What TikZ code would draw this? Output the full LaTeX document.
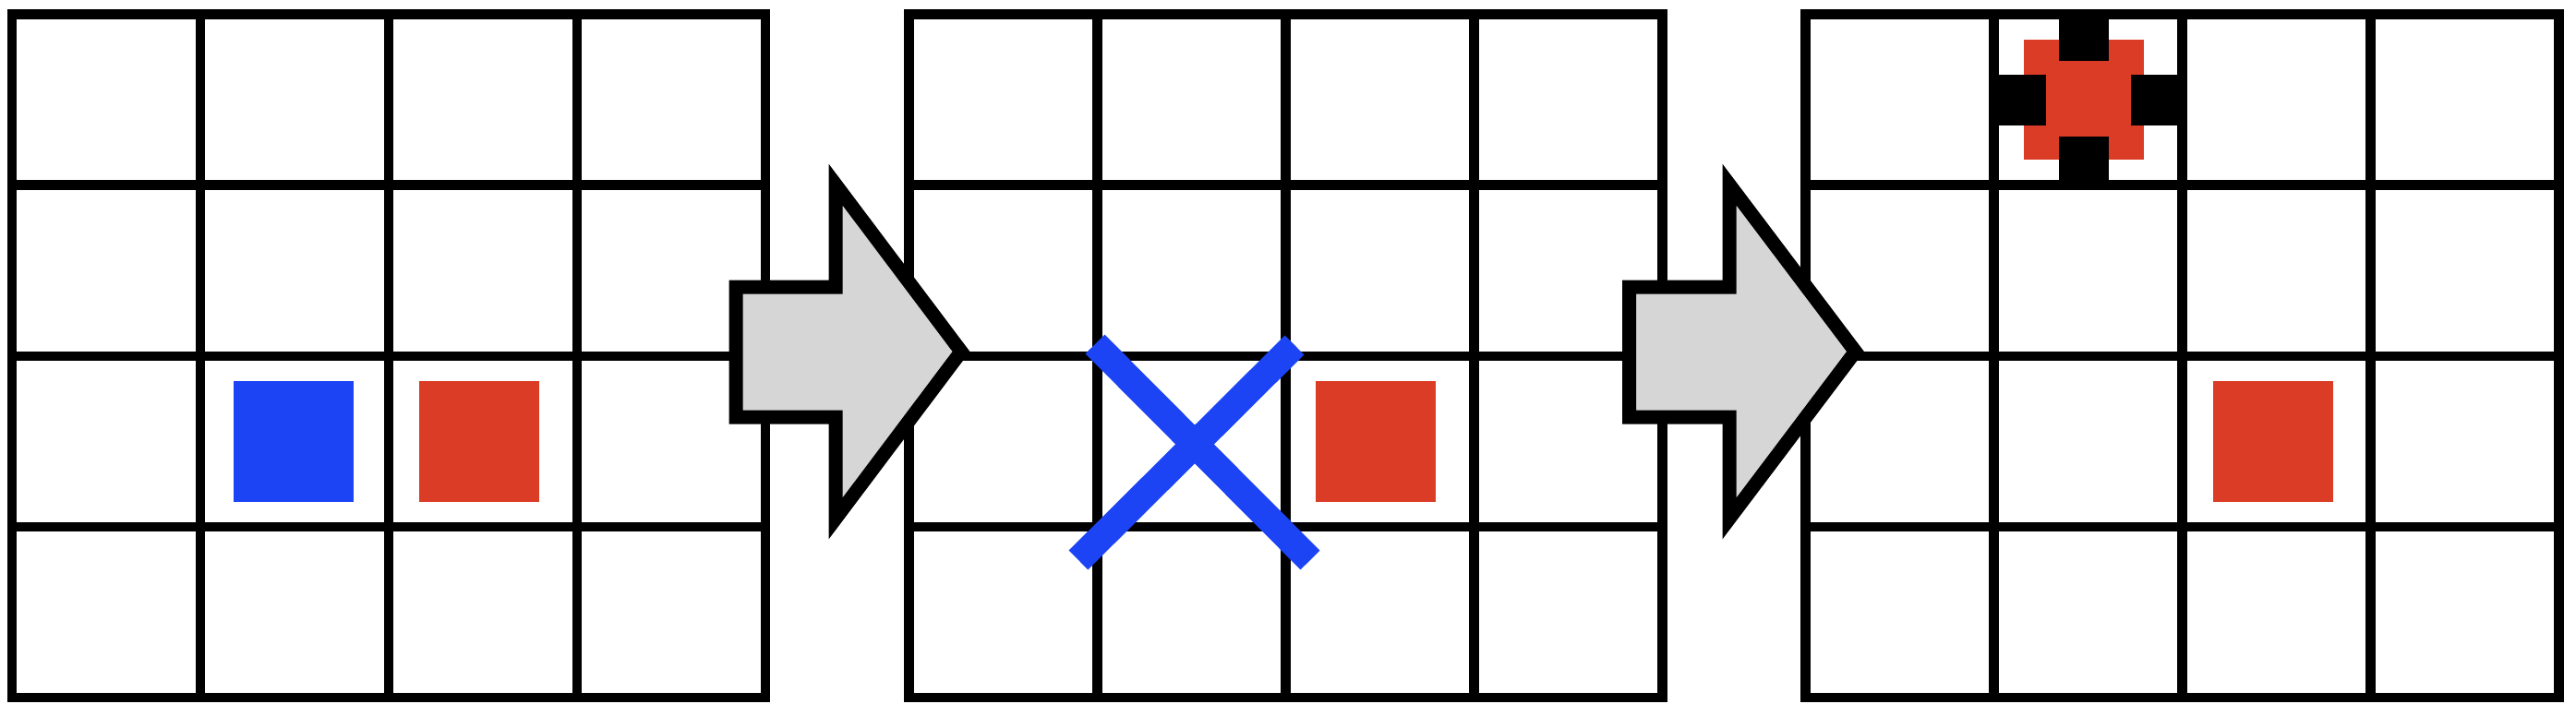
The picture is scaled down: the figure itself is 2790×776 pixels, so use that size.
\documentclass[tikz,border=0pt]{standalone}
\definecolor{cblue}{RGB}{28,68,245}
\definecolor{cred}{RGB}{219,60,38}
\definecolor{cgray}{RGB}{214,214,214}
\begin{document}
\begin{tikzpicture}[x=1pt,y=-1pt,
  gridline/.style={line width=10.5pt,black},
  token/.style={rectangle,draw=none,inner sep=0pt,minimum width=130pt,minimum height=131pt},
  bluetok/.style={token,fill=cblue},
  redtok/.style={token,fill=cred},
  wallblock/.style={fill=black},
  bigarrow/.style={draw=black,fill=cgray,line width=15pt,line join=miter},
  crossline/.style={draw=cblue,line width=29.5pt,line cap=butt}]
\useasboundingbox (0,0) rectangle (2790,776);
% grids
\foreach \gx in {13,984.5,1955.5}{
  \draw[gridline] (\gx,15.5) rectangle (\gx+816,756);
  \foreach \i in {1,2,3}{
    \draw[gridline] (\gx+\i*204,15.5) -- (\gx+\i*204,756);
    \draw[gridline] (\gx,15.5+\i*185.125) -- (\gx+816,15.5+\i*185.125);
  }
}
% tokens
\node[bluetok] (b1) at (318,478.5) {};
\node[redtok] (r1) at (518.5,478.5) {};
\node[redtok] (r2) at (1490,478.5) {};
\node[redtok] (r3) at (2461.5,478.5) {};
\node[redtok,minimum height=129pt] (r4) at (2257,108) {};
% wall blocks around top token
\fill[wallblock] (2229.7,11.5) rectangle (2284,66);
\fill[wallblock] (2229.7,147.7) rectangle (2284,202);
\fill[wallblock] (2161.7,81) rectangle (2216,135.7);
\fill[wallblock] (2308.3,81) rectangle (2363,135.7);
% arrows
\draw[bigarrow] (797,311) -- (905,311) -- (905,200) -- (1041,381) -- (905,562) -- (905,452) -- (797,452) -- cycle;
\draw[bigarrow] (1764.5,311) -- (1873,311) -- (1873,200) -- (2009.5,381) -- (1873,562) -- (1873,452) -- (1764.5,452) -- cycle;
% cross
\coordinate (xa) at (1186,373);
\coordinate (xb) at (1419,607);
\coordinate (xc) at (1402,374);
\coordinate (xd) at (1168,607);
\draw[crossline] (xa) -- (xb);
\draw[crossline] (xc) -- (xd);
\end{tikzpicture}
\end{document}
